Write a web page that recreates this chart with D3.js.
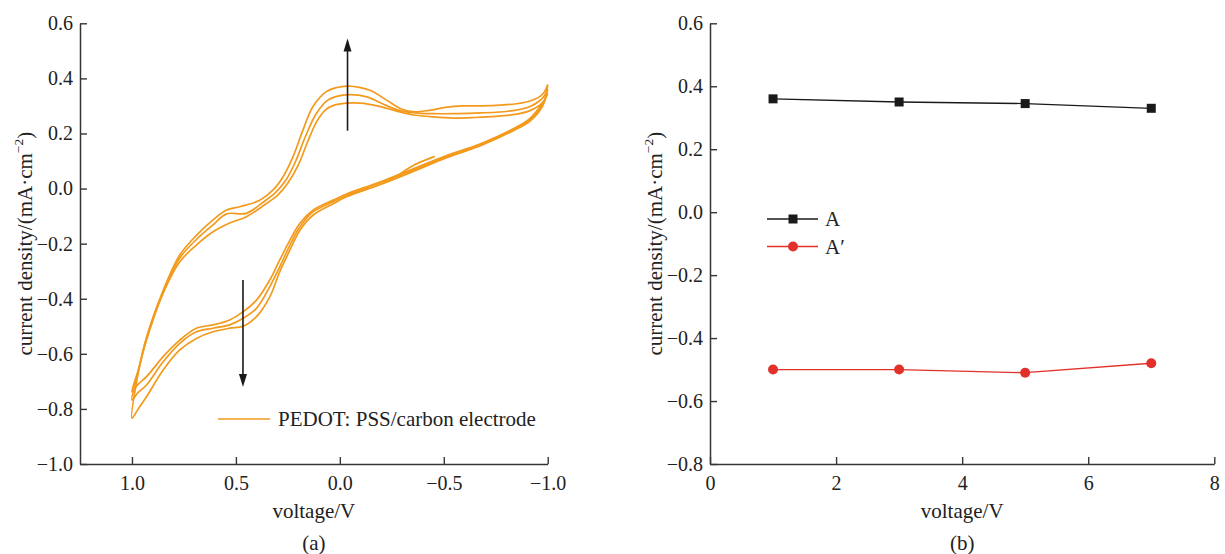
<!DOCTYPE html>
<html>
<head>
<meta charset="utf-8">
<script src="https://cdn.jsdelivr.net/npm/d3@7/dist/d3.min.js"></script>
<style>
  html, body { margin: 0; padding: 0; background: #fff; }
  svg { display: block; }
  text { font-family: "Liberation Serif", "Times New Roman", serif; fill: #222; }
</style>
</head>
<body>
<svg id="chart" width="1225" height="554"></svg>
<script>
// ---------- (a) cyclic voltammograms: [potential V, current density mA/cm2] ----------
const cvCycle1 = [
  [-1.0, 0.345], [-0.985, 0.322], [-0.96, 0.302], [-0.915, 0.283], [-0.85, 0.27], [-0.75, 0.262],
  [-0.65, 0.258], [-0.55, 0.256], [-0.45, 0.26], [-0.35, 0.268], [-0.27, 0.282], [-0.18, 0.3],
  [-0.1, 0.31], [-0.03, 0.31], [0.03, 0.302], [0.07, 0.285], [0.11, 0.245], [0.155, 0.17],
  [0.2, 0.085], [0.25, 0.02], [0.3, -0.025], [0.36, -0.058], [0.449, -0.102], [0.53, -0.125],
  [0.61, -0.157], [0.69, -0.205], [0.77, -0.266], [0.85, -0.38], [0.93, -0.55], [0.97, -0.66],
  [1.0, -0.738],
  [0.97, -0.71], [0.93, -0.683], [0.85, -0.61], [0.77, -0.55], [0.69, -0.507], [0.61, -0.495],
  [0.53, -0.477], [0.465, -0.447], [0.401, -0.405], [0.337, -0.332], [0.289, -0.259], [0.24, -0.187],
  [0.192, -0.126], [0.128, -0.078], [0.032, -0.042], [-0.032, -0.02], [-0.193, 0.024], [-0.353, 0.072],
  [-0.514, 0.12], [-0.674, 0.162], [-0.834, 0.217], [-0.915, 0.255], [-0.979, 0.315], [-1.0, 0.345]
];
const cvCycle2 = [
  [-1.0, 0.362], [-0.985, 0.338], [-0.96, 0.318], [-0.915, 0.298], [-0.85, 0.285], [-0.75, 0.277],
  [-0.65, 0.274], [-0.55, 0.272], [-0.45, 0.272], [-0.35, 0.276], [-0.28, 0.285], [-0.2, 0.31],
  [-0.13, 0.333], [-0.05, 0.341], [0.02, 0.334], [0.06, 0.32], [0.115, 0.27], [0.165, 0.19],
  [0.212, 0.1], [0.26, 0.03], [0.31, -0.015], [0.37, -0.05], [0.45, -0.09], [0.545, -0.092],
  [0.61, -0.132], [0.69, -0.185], [0.77, -0.252], [0.85, -0.375], [0.93, -0.545], [0.97, -0.665],
  [1.0, -0.768],
  [0.97, -0.74], [0.93, -0.713], [0.85, -0.629], [0.77, -0.562], [0.69, -0.52], [0.61, -0.507],
  [0.53, -0.495], [0.465, -0.471], [0.401, -0.435], [0.337, -0.356], [0.289, -0.284], [0.24, -0.205],
  [0.192, -0.139], [0.128, -0.084], [0.032, -0.048], [-0.032, -0.025], [-0.193, 0.019], [-0.353, 0.067],
  [-0.514, 0.116], [-0.674, 0.158], [-0.834, 0.213], [-0.915, 0.25], [-0.979, 0.31], [-1.0, 0.362]
];
const cvCycle3 = [
  [-1.0, 0.378], [-0.985, 0.352], [-0.96, 0.333], [-0.915, 0.318], [-0.85, 0.308], [-0.75, 0.302],
  [-0.65, 0.3], [-0.59, 0.3], [-0.51, 0.295], [-0.43, 0.284], [-0.35, 0.279], [-0.29, 0.291],
  [-0.225, 0.321], [-0.145, 0.357], [-0.04, 0.372], [0.02, 0.366], [0.065, 0.352], [0.13, 0.297],
  [0.177, 0.213], [0.225, 0.116], [0.273, 0.043], [0.321, -0.005], [0.385, -0.042], [0.48, -0.066],
  [0.545, -0.078], [0.61, -0.114], [0.69, -0.17], [0.77, -0.241], [0.85, -0.37], [0.93, -0.54],
  [0.97, -0.67], [1.0, -0.834],
  [0.97, -0.8], [0.93, -0.756], [0.85, -0.659], [0.77, -0.586], [0.69, -0.544], [0.61, -0.52],
  [0.53, -0.507], [0.465, -0.5], [0.401, -0.465], [0.337, -0.393], [0.289, -0.302], [0.24, -0.223],
  [0.192, -0.151], [0.128, -0.096], [0.032, -0.055], [-0.032, -0.03], [-0.193, 0.014], [-0.353, 0.062],
  [-0.514, 0.112], [-0.674, 0.155], [-0.834, 0.21], [-0.915, 0.245], [-0.979, 0.305], [-1.0, 0.378]
];
const cvTail = [[-0.2, 0.024], [-0.27, 0.045], [-0.353, 0.084], [-0.457, 0.117]];

// arrows marking the growth of the peaks with cycling
const arrowUp = [[-0.037, 0.21], [-0.037, 0.545]];
const arrowDown = [[0.466, -0.332], [0.466, -0.72]];

const cvVoltTicks = [1.0, 0.5, 0.0, -0.5, -1.0];
const cvVoltMinor = [0.75, 0.25, -0.25, -0.75];
const cvCurrentTicks = [0.6, 0.4, 0.2, 0.0, -0.2, -0.4, -0.6, -0.8, -1.0];
const cvCurrentMinor = [0.5, 0.3, 0.1, -0.1, -0.3, -0.5, -0.7, -0.9];

// ---------- (b) peak current density vs voltage ----------
const voltageB = [1, 3, 5, 7];
const peakA = [0.36, 0.35, 0.345, 0.33];
const peakA2 = [-0.50, -0.50, -0.51, -0.48];

const bVoltTicks = [0, 2, 4, 6, 8];
const bVoltMinor = [1, 3, 5, 7];
const bCurrentTicks = [0.6, 0.4, 0.2, 0.0, -0.2, -0.4, -0.6, -0.8];
const bCurrentMinor = [0.5, 0.3, 0.1, -0.1, -0.3, -0.5, -0.7];

const ORANGE = "#f39a1c", RED = "#e2312a", BLACK = "#1a1a1a", AXIS = "#353535";

const svg = d3.select("#chart");

const fmt1 = d => (Math.abs(d) < 1e-9 ? "0.0" : (d < 0 ? "\u2212" + Math.abs(d).toFixed(1) : d.toFixed(1)));
const fmt0 = d => String(d);

function drawAxes(g, x, y, o) {
  const gx = g.append("g").attr("transform", `translate(0,${o.bottom})`);
  gx.call(d3.axisBottom(x).tickValues(o.xMinor).tickSize(-4).tickFormat(""));
  gx.call(d3.axisBottom(x).tickValues(o.xTicks).tickSizeInner(-7).tickSizeOuter(0)
    .tickPadding(12).tickFormat(o.xFmt));
  const gy = g.append("g").attr("transform", `translate(${o.left},0)`);
  gy.call(d3.axisLeft(y).tickValues(o.yMinor).tickSize(-4).tickFormat(""));
  gy.call(d3.axisLeft(y).tickValues(o.yTicks).tickSizeInner(-7).tickSizeOuter(0)
    .tickPadding(7).tickFormat(fmt1));
  [gx, gy].forEach(a => {
    a.selectAll("path.domain").attr("stroke", AXIS).attr("stroke-width", 1.5);
    a.selectAll("line").attr("stroke", AXIS).attr("stroke-width", 1.4);
    a.selectAll("text").attr("font-size", 20).attr("fill", "#222")
      .attr("font-family", '"Liberation Serif", serif');
  });

  const cx = (o.left + o.right) / 2;
  g.append("text").attr("x", cx).attr("y", 518).attr("text-anchor", "middle")
    .attr("font-size", 21).text("voltage/V");
  g.append("text").attr("x", cx).attr("y", 550).attr("text-anchor", "middle")
    .attr("font-size", 21).text(o.panel);

  const yt = g.append("text")
    .attr("transform", `translate(${o.left - 48},${(o.top + o.bottom) / 2}) rotate(-90)`)
    .attr("text-anchor", "middle").attr("font-size", 21);
  yt.append("tspan").text("current density/(mA\u00b7cm");
  yt.append("tspan").attr("font-size", 13.5).attr("dy", -9).text("\u22122");
  yt.append("tspan").attr("dy", 9).text(")");
}

// ---------- panel (a) ----------
{
  const left = 80, right = 547.7, top = 23.3, bottom = 464;
  const x = d3.scaleLinear().domain([1.25, -1.0]).range([left, right]);
  const y = d3.scaleLinear().domain([-1.0, 0.6]).range([bottom, top]);
  const g = svg.append("g");
  drawAxes(g, x, y, { left, right, top, bottom, xTicks: cvVoltTicks, xMinor: cvVoltMinor,
    yTicks: cvCurrentTicks, yMinor: cvCurrentMinor, xFmt: fmt1, panel: "(a)" });

  const line = d3.line().x(d => x(d[0])).y(d => y(d[1])).curve(d3.curveCatmullRom.alpha(0.5));
  [cvCycle1, cvCycle2, cvCycle3, cvTail].forEach(c => {
    g.append("path").attr("d", line(c)).attr("fill", "none")
      .attr("stroke", ORANGE).attr("stroke-width", 1.7).attr("stroke-linejoin", "round");
  });

  // arrows
  [arrowUp, arrowDown].forEach(a => {
    const x0 = x(a[0][0]), y0 = y(a[0][1]), y1 = y(a[1][1]);
    const dir = y1 < y0 ? 1 : -1;
    g.append("line").attr("x1", x0).attr("x2", x0).attr("y1", y0).attr("y2", y1 + dir * 10)
      .attr("stroke", BLACK).attr("stroke-width", 1.6);
    g.append("path")
      .attr("d", `M${x0},${y1} L${x0 - 4},${y1 + dir * 13} L${x0 + 4},${y1 + dir * 13} Z`)
      .attr("fill", BLACK);
  });

  // legend
  g.append("line").attr("x1", 218).attr("x2", 270).attr("y1", 419).attr("y2", 419)
    .attr("stroke", ORANGE).attr("stroke-width", 1.7);
  g.append("text").attr("x", 278).attr("y", 426).attr("font-size", 21)
    .text("PEDOT: PSS/carbon electrode");
}

// ---------- panel (b) ----------
{
  const left = 710, right = 1214.3, top = 23.3, bottom = 464;
  const x = d3.scaleLinear().domain([0, 8]).range([left, right]);
  const y = d3.scaleLinear().domain([-0.8, 0.6]).range([bottom, top]);
  const g = svg.append("g");
  drawAxes(g, x, y, { left, right, top, bottom, xTicks: bVoltTicks, xMinor: bVoltMinor,
    yTicks: bCurrentTicks, yMinor: bCurrentMinor, xFmt: fmt0, panel: "(b)" });

  const seriesA = voltageB.map((v, i) => [v, peakA[i]]);
  const seriesA2 = voltageB.map((v, i) => [v, peakA2[i]]);
  const line = d3.line().x(d => x(d[0])).y(d => y(d[1]));

  g.append("path").attr("d", line(seriesA)).attr("fill", "none")
    .attr("stroke", BLACK).attr("stroke-width", 1.3);
  g.selectAll("rect.ma").data(seriesA).join("rect").attr("class", "ma")
    .attr("x", d => x(d[0]) - 4.5).attr("y", d => y(d[1]) - 4.5)
    .attr("width", 9).attr("height", 9).attr("fill", BLACK);

  g.append("path").attr("d", line(seriesA2)).attr("fill", "none")
    .attr("stroke", RED).attr("stroke-width", 1.3);
  g.selectAll("circle.mb").data(seriesA2).join("circle").attr("class", "mb")
    .attr("cx", d => x(d[0])).attr("cy", d => y(d[1])).attr("r", 5).attr("fill", RED);

  // legend
  const lg = g.append("g");
  lg.append("line").attr("x1", 767).attr("x2", 818).attr("y1", 219).attr("y2", 219)
    .attr("stroke", BLACK).attr("stroke-width", 1.3);
  lg.append("rect").attr("x", 793 - 4.5).attr("y", 219 - 4.5).attr("width", 9).attr("height", 9)
    .attr("fill", BLACK);
  lg.append("text").attr("x", 825).attr("y", 226).attr("font-size", 21).text("A");
  lg.append("line").attr("x1", 767).attr("x2", 818).attr("y1", 246.5).attr("y2", 246.5)
    .attr("stroke", RED).attr("stroke-width", 1.3);
  lg.append("circle").attr("cx", 793).attr("cy", 246.5).attr("r", 5).attr("fill", RED);
  lg.append("text").attr("x", 825).attr("y", 253.5).attr("font-size", 21).text("A\u2032");
}
</script>
</body>
</html>
